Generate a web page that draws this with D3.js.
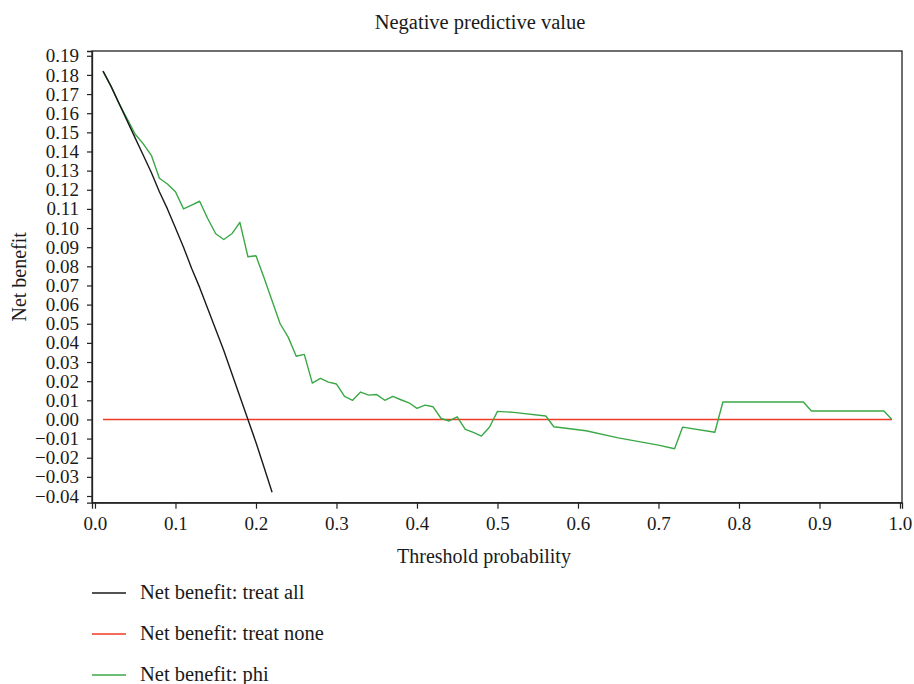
<!DOCTYPE html>
<html>
<head>
<meta charset="utf-8">
<script src="https://cdn.jsdelivr.net/npm/d3@7"></script>
<style>
  body { margin: 0; background: #fff; }
  svg { display: block; }
  svg text { font-family: "Liberation Serif", "DejaVu Serif", serif !important; fill: #1a1a1a; }
</style>
</head>
<body>
<svg id="chart" width="914" height="684"></svg>
<script>
// ---- data ----
const titleText = "Negative predictive value";
const xLabel = "Threshold probability";
const yLabel = "Net benefit";
const xTicks = [0, 0.1, 0.2, 0.3, 0.4, 0.5, 0.6, 0.7, 0.8, 0.9, 1.0];
const yTicks = [0.19, 0.18, 0.17, 0.16, 0.15, 0.14, 0.13, 0.12, 0.11, 0.10, 0.09, 0.08, 0.07, 0.06, 0.05, 0.04, 0.03, 0.02, 0.01, 0.00, -0.01, -0.02, -0.03, -0.04];

const treatAllX = [0.01, 0.02, 0.03, 0.04, 0.05, 0.06, 0.07, 0.08, 0.09, 0.10, 0.11, 0.12, 0.13, 0.14, 0.15, 0.16, 0.17, 0.18, 0.19, 0.20, 0.21, 0.22];
const treatAllY = [0.182, 0.174, 0.165, 0.156, 0.147, 0.138, 0.129, 0.119, 0.110, 0.100, 0.090, 0.079, 0.069, 0.058, 0.047, 0.036, 0.024, 0.012, 0.000, -0.012, -0.025, -0.038];

const treatNoneX = [0.01, 0.99];
const treatNoneY = [0, 0];

const phiX = [0.01, 0.02, 0.03, 0.04, 0.05, 0.06, 0.07, 0.08, 0.09, 0.10, 0.11, 0.12, 0.13, 0.14, 0.15, 0.16, 0.17, 0.18, 0.19, 0.20,
              0.21, 0.22, 0.23, 0.24, 0.25, 0.26, 0.27, 0.28, 0.29, 0.30, 0.31, 0.32, 0.33, 0.34, 0.35, 0.36, 0.37, 0.38, 0.39, 0.40,
              0.41, 0.42, 0.43, 0.44, 0.45, 0.46, 0.47, 0.48, 0.49, 0.50, 0.52, 0.56, 0.57, 0.61, 0.65, 0.70, 0.72, 0.73, 0.77, 0.78,
              0.88, 0.89, 0.98, 0.99];
const phiY = [0.182, 0.174, 0.165, 0.157, 0.149, 0.144, 0.138, 0.126, 0.123, 0.119, 0.110, 0.112, 0.114, 0.105, 0.097, 0.094, 0.097, 0.103, 0.085, 0.0855,
              0.074, 0.062, 0.050, 0.043, 0.033, 0.034, 0.019, 0.0215, 0.0195, 0.0185, 0.012, 0.010, 0.0143, 0.0127, 0.013, 0.010, 0.012, 0.0103, 0.0087, 0.0058,
              0.0075, 0.0066, 0.0005, -0.0008, 0.0014, -0.0052, -0.0068, -0.0087, -0.0041, 0.0042, 0.0037, 0.0018, -0.0038, -0.0059, -0.0096, -0.0134, -0.0153, -0.0040, -0.0067, 0.0091,
              0.0091, 0.0044, 0.0044, 0.0];

const legendLabels = ["Net benefit: treat all", "Net benefit: treat none", "Net benefit: phi"];
const seriesColors = ["#1a1a1a", "#f03a24", "#3aa845"];

// ---- layout ----
const svg = d3.select("#chart");
const mLeft = 92, mRight = 902, mTop = 51, mBottom = 502.7;
const serif = '"Liberation Serif", "DejaVu Serif", serif';

const x = d3.scaleLinear().domain([-0.0037, 1.0025]).range([mLeft, mRight]);
const y = d3.scaleLinear().domain([-0.0435, 0.1925]).range([mBottom, mTop]);

// frame (top & right)
svg.append("rect")
  .attr("x", mLeft).attr("y", mTop)
  .attr("width", mRight - mLeft).attr("height", mBottom - mTop)
  .attr("fill", "none").attr("stroke", "#222").attr("stroke-width", 1.3);

// axes
const xAxis = d3.axisBottom(x).tickValues(xTicks).tickSize(6).tickPadding(8)
  .tickFormat(d3.format(".1f"));
const gx = svg.append("g").attr("transform", `translate(0,${mBottom})`).call(xAxis)
  .attr("font-family", serif).attr("font-size", 19);
gx.select(".domain").attr("stroke", "#222").attr("stroke-width", 1.3);
gx.selectAll(".tick line").attr("stroke", "#222").attr("stroke-width", 1.2);
gx.selectAll(".tick text").style("font-size", "19px").style("font-family", serif).attr("fill", "#1a1a1a");

const fmtY = d => (d < 0 ? "\u2212" : "") + d3.format(".2f")(Math.abs(d));
const yAxis = d3.axisLeft(y).tickValues(yTicks).tickSize(5).tickPadding(8).tickFormat(fmtY);
const gy = svg.append("g").attr("transform", `translate(${mLeft},0)`).call(yAxis)
  .attr("font-family", serif).attr("font-size", 19);
gy.select(".domain").attr("stroke", "#222").attr("stroke-width", 1.3);
gy.selectAll(".tick line").attr("stroke", "#222").attr("stroke-width", 1.2);
gy.selectAll(".tick text").style("font-size", "19px").style("font-family", serif).attr("fill", "#1a1a1a");

// lines
const line = d3.line().x(d => x(d[0])).y(d => y(d[1]));
const series = [
  d3.zip(treatAllX, treatAllY),
  d3.zip(treatNoneX, treatNoneY),
  d3.zip(phiX, phiY)
];
[1, 2, 0].forEach(i => {
  svg.append("path")
    .datum(series[i])
    .attr("fill", "none")
    .attr("stroke", seriesColors[i])
    .attr("stroke-width", 1.4)
    .attr("stroke-linejoin", "round")
    .attr("d", line);
});

// title & labels
svg.append("text").attr("x", 480).attr("y", 29).attr("text-anchor", "middle")
  .style("font-size", "20.5px").text(titleText);
svg.append("text").attr("x", 484).attr("y", 563).attr("text-anchor", "middle")
  .style("font-size", "20px").text(xLabel);
svg.append("text").attr("transform", `translate(26,${(mTop + mBottom) / 2}) rotate(-90)`)
  .attr("text-anchor", "middle").style("font-size", "20px").text(yLabel);

// legend
const lg = svg.append("g");
legendLabels.forEach((lab, i) => {
  const ly = 593 + i * 41;
  lg.append("line").attr("x1", 92).attr("x2", 126).attr("y1", ly).attr("y2", ly)
    .attr("stroke", seriesColors[i]).attr("stroke-width", 1.5);
  lg.append("text").attr("x", 140).attr("y", ly + 6).style("font-size", "20.5px").text(lab);
});
</script>
</body>
</html>
